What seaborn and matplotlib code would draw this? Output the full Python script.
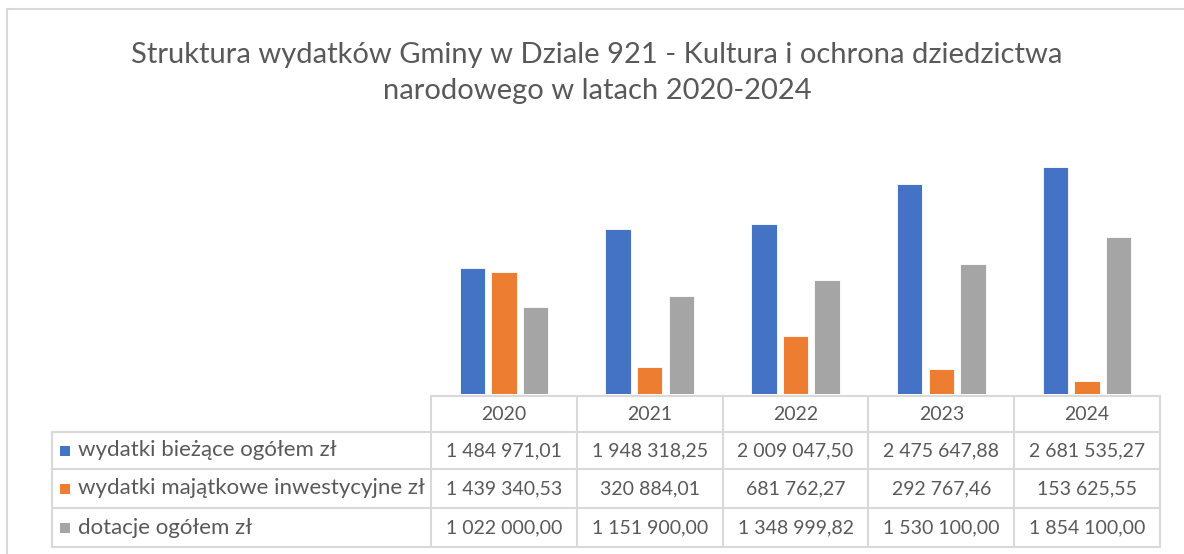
import matplotlib
matplotlib.use("Agg")
import matplotlib.pyplot as plt
from matplotlib.patches import Rectangle
import seaborn as sns
import pandas as pd

years = ["2020", "2021", "2022", "2023", "2024"]
series_names = ["wydatki bieżące ogółem zł",
                "wydatki majątkowe inwestycyjne zł",
                "dotacje ogółem zł"]
biezace = [1484971.01, 1948318.25, 2009047.50, 2475647.88, 2681535.27]
majatkowe = [1439340.53, 320884.01, 681762.27, 292767.46, 153625.55]
dotacje = [1022000.00, 1151900.00, 1348999.82, 1530100.00, 1854100.00]
colors = ["#4472C4", "#ED7D31", "#A5A5A5"]
title = "Struktura wydatków Gminy w Dziale 921 - Kultura i ochrona dziedzictwa\nnarodowego w latach 2020-2024"


def fmt(v):
    return f"{v:,.2f}".replace(",", " ").replace(".", ",")


series_values = [biezace, majatkowe, dotacje]
df = pd.DataFrame({
    "rok": years * 3,
    "seria": [n for n in series_names for _ in years],
    "wartosc": biezace + majatkowe + dotacje,
})

sns.set_style("white")
plt.rcParams["font.family"] = ["Lato", "DejaVu Sans"]

W, H = 1184, 554
fig = plt.figure(figsize=(W / 100, H / 100), dpi=100)

# plot area (pixel layout)
x0, x1 = 431, 1160
y_base, y_top = 394, 140
ax = fig.add_axes([x0 / W, 1 - y_base / H, (x1 - x0) / W, (y_base - y_top) / H])
sns.barplot(data=df, x="rok", y="wartosc", hue="seria", palette=colors,
            width=0.65, gap=0.2, saturation=1, legend=False, ax=ax,
            edgecolor="white", linewidth=0.6)
ax.set_xlim(-0.5, 4.5)
ax.set_ylim(0, 3000000)
ax.axis("off")

# overlay in pixel coordinates for title, border and data table
ov = fig.add_axes([0, 0, 1, 1])
ov.set_xlim(0, W)
ov.set_ylim(H, 0)
ov.axis("off")
ov.patch.set_alpha(0)

grid = "#D9D9D9"
txt = "#595959"

# chart border
ov.plot([7, W], [8.5, 8.5], color=grid, lw=1.5)
ov.plot([7, 7], [8.5, H], color=grid, lw=1.5)

ov.text(597, 73, title, ha="center", va="center", fontsize=21,
        color=txt, linespacing=1.45)

# data table
col_w = (x1 - x0) / len(years)
edges = [x0 + col_w * i for i in range(len(years) + 1)]
row_lines = [396, 432, 469, 508, 547]
lab_x = 52

ov.plot([x0, x1], [row_lines[0]] * 2, color=grid, lw=1.5)
for y in row_lines[1:]:
    ov.plot([lab_x, x1], [y, y], color=grid, lw=1.5)
for x in edges:
    ov.plot([x, x], [row_lines[0], row_lines[-1]], color=grid, lw=1.5)
ov.plot([lab_x, lab_x], [row_lines[1], row_lines[-1]], color=grid, lw=1.5)

fs = 14
for i, yr in enumerate(years):
    cx = edges[i] + col_w / 2
    ov.text(cx, (row_lines[0] + row_lines[1]) / 2, yr, ha="center",
            va="center", fontsize=fs, color=txt)

for r, (name, vals, c) in enumerate(zip(series_names, series_values, colors)):
    cy = (row_lines[r + 1] + row_lines[r + 2]) / 2
    ov.add_patch(Rectangle((60, cy - 5), 10, 10, color=c, lw=0))
    ov.text(78, cy, name, ha="left", va="center", fontsize=16, color=txt)
    for i, v in enumerate(vals):
        cx = edges[i] + col_w / 2
        ov.text(cx, cy, fmt(v), ha="center", va="center", fontsize=fs, color=txt)

fig.savefig("out.png", dpi=100, facecolor="white")
